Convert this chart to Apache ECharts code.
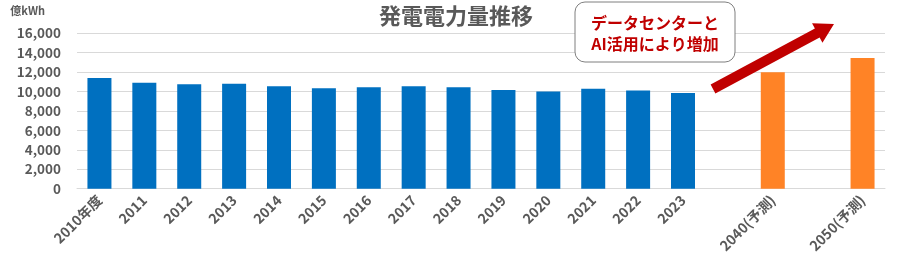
<!DOCTYPE html>
<html>
<head>
<meta charset="utf-8">
<script src="https://cdn.jsdelivr.net/npm/echarts@6/dist/echarts.min.js"></script>
<style>html,body{margin:0;padding:0;background:#fff;}#c{width:900px;height:274px;}</style>
</head>
<body>
<div id="c"></div>
<script>
const categories = ['2010年度','2011','2012','2013','2014','2015','2016','2017','2018','2019','2020','2021','2022','2023','','2040(予測)','','2050(予測)'];
const actualValues = [11400,10900,10750,10800,10550,10350,10450,10550,10450,10150,10000,10300,10100,9850,null,null,null,null];
const forecastValues = [null,null,null,null,null,null,null,null,null,null,null,null,null,null,null,12000,null,13450];
const yTicks = [0,2000,4000,6000,8000,10000,12000,14000,16000];

const chart = echarts.init(document.getElementById('c'));
const font = '"Noto Sans CJK JP","Noto Sans",sans-serif';

function arrowPoints(x1,y1,x2,y2,w,hw,hl){
  const dx=x2-x1, dy=y2-y1, L=Math.hypot(dx,dy);
  const ux=dx/L, uy=dy/L, nx=-uy, ny=ux;
  const bx=x2-ux*hl, by=y2-uy*hl;
  return [
    [x1+nx*w/2,y1+ny*w/2],[bx+nx*w/2,by+ny*w/2],[bx+nx*hw/2,by+ny*hw/2],[x2,y2],
    [bx-nx*hw/2,by-ny*hw/2],[bx-nx*w/2,by-ny*w/2],[x1-nx*w/2,y1-ny*w/2]
  ];
}

chart.setOption({
  animation:false,
  title:{text:'発電電力量推移',left:451,top:0,textAlign:'center',
    textStyle:{fontFamily:font,fontSize:22,fontWeight:'bold',color:'#595959'}},
  grid:{left:77,right:15,top:33.3,bottom:85.3},
  xAxis:{type:'category',data:categories,
    axisLine:{show:true,lineStyle:{color:'#D9D9D9'}},axisTick:{show:false},
    axisLabel:{rotate:45,interval:0,margin:9,fontFamily:font,fontSize:14,fontWeight:'bold',color:'#595959'}},
  yAxis:{type:'value',min:0,max:16000,interval:2000,
    name:'億kWh',nameLocation:'end',nameGap:17,
    nameTextStyle:{fontFamily:font,fontSize:11,fontWeight:'bold',color:'#595959',align:'right',padding:[0,32,0,0]},
    axisLine:{show:false},axisTick:{show:false},
    splitLine:{lineStyle:{color:'#D9D9D9'}},
    axisLabel:{margin:16,fontFamily:font,fontSize:13.5,fontWeight:'bold',color:'#595959',
      formatter:v=>yTicks.includes(v)?v.toLocaleString('en-US'):''}},
  series:[
    {type:'bar',data:actualValues,barWidth:24,barGap:'-100%',itemStyle:{color:'#0070C0'}},
    {type:'bar',data:forecastValues,barWidth:24,itemStyle:{color:'#FF8326'}}
  ],
  graphic:[
    {type:'polygon',shape:{points:arrowPoints(713,89,834,24,10,22,19)},style:{fill:'#C00000'},z:10},
    {type:'rect',shape:{x:575,y:2,width:160,height:60,r:10},style:{fill:'#fff',stroke:'#7F7F7F',lineWidth:1},z:10},
    {type:'text',x:655,y:33,style:{text:'データセンターと\nAI活用により増加',align:'center',verticalAlign:'middle',
      fontFamily:font,fontSize:16,fontWeight:'bold',fill:'#C00000',lineHeight:21},z:11}
  ]
});
</script>
</body>
</html>
